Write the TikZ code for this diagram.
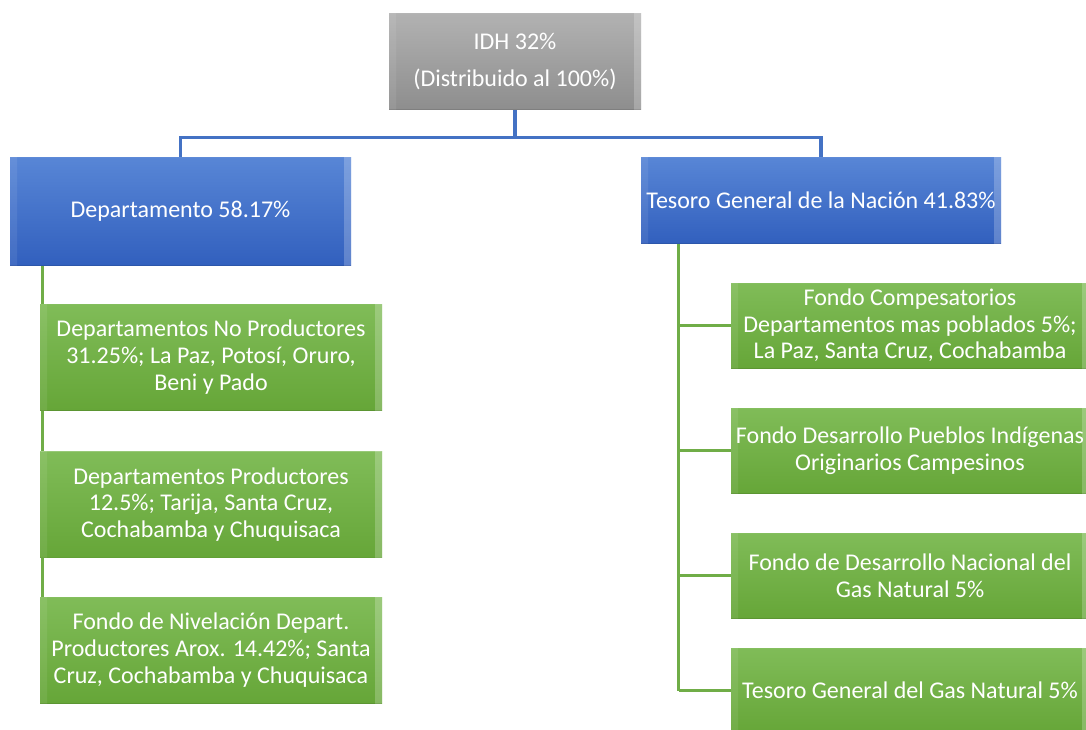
\documentclass[tikz,border=0pt]{standalone}
\usepackage{fontspec}
\setmainfont{Carlito}
\usetikzlibrary{calc,backgrounds}
\definecolor{grayTop}{RGB}{178,178,178}
\definecolor{grayBot}{RGB}{142,142,142}
\definecolor{blueTop}{RGB}{88,134,214}
\definecolor{blueBot}{RGB}{50,96,190}
\definecolor{greenTop}{RGB}{128,188,88}
\definecolor{greenBot}{RGB}{102,166,56}
\definecolor{blueLine}{RGB}{68,114,196}
\definecolor{greenLine}{RGB}{112,173,71}
\tikzset{every picture/.style={line width=0.75pt}}
\tikzset{
  bevel/.style={path picture={
    \path (path picture bounding box.north west) coordinate (bnw)
          (path picture bounding box.north east) coordinate (bne)
          (path picture bounding box.south west) coordinate (bsw)
          (path picture bounding box.south east) coordinate (bse);
    \fill[white,opacity=.3] (bnw) -- (bne) -- ($(bne)+(-7,7)$) -- ($(bnw)+(7,7)$) -- cycle;
    \fill[white,opacity=.08] (bnw) -- ($(bnw)+(7,7)$) -- ($(bsw)+(7,-7)$) -- (bsw) -- cycle;
    \fill[white,opacity=.22] (bne) -- ($(bne)+(-7,7)$) -- ($(bse)+(-7,-7)$) -- (bse) -- cycle;
    \fill[black,opacity=.1] (bsw) -- ($(bsw)+(7,-7)$) -- ($(bse)+(-7,-7)$) -- (bse) -- cycle;
  }},
  box/.style={rectangle, inner sep=2pt, text=white, align=center,
    font=\fontsize{18}{20}\selectfont, bevel},
  graybox/.style={box, top color=grayTop, bottom color=grayBot},
  bluebox/.style={box, top color=blueTop, bottom color=blueBot},
  greenbox/.style={box, top color=greenTop, bottom color=greenBot},
  blueline/.style={draw=blueLine, line width=2.4pt},
  greenline/.style={draw=greenLine, line width=2.2pt}
}
\begin{document}
\begin{tikzpicture}[x=0.75pt,y=0.75pt,yscale=-1,xscale=1]
\useasboundingbox (0,0) rectangle (1086,729);

% top box
\node[graybox, minimum width=189pt, minimum height=72pt] (idh) at (515,61)
  {IDH 32\%\\[7.75pt](Distribuido al 100\%)};

% second level
\node[bluebox, minimum width=255.75pt, minimum height=81pt] (dep) at (180.5,211) {Departamento 58.17\%};
\node[bluebox, minimum width=270pt, minimum height=64.5pt] (tgn) at (821,200) {Tesoro General de la Nación 41.83\%};

% left branch
\node[greenbox, minimum width=256.5pt, minimum height=79.5pt] (dnp) at (211,357)
  {Departamentos No Productores\\31.25\%; La Paz, Potosí, Oruro,\\Beni y Pado};
\node[greenbox, minimum width=256.5pt, minimum height=79.5pt] (dp) at (211,504.5)
  {Departamentos Productores\\12.5\%; Tarija, Santa Cruz,\\Cochabamba y Chuquisaca};
\node[greenbox, minimum width=256.5pt, minimum height=79.5pt] (fnd) at (211,650)
  {Fondo de Nivelación Depart.\\Productores Arox. 14.42\%; Santa\\Cruz, Cochabamba y Chuquisaca};

% right branch
\node[greenbox, minimum width=268.5pt, minimum height=63.75pt] (fcd) at (910,325.5)
  {Fondo Compesatorios\\Departamentos mas poblados 5\%;\\La Paz, Santa Cruz, Cochabamba};
\node[greenbox, minimum width=268.5pt, minimum height=63.75pt] (fdp) at (910,450.5)
  {Fondo Desarrollo Pueblos Indígenas\\Originarios Campesinos};
\node[greenbox, minimum width=268.5pt, minimum height=63.75pt] (fdn) at (910,575.5)
  {Fondo de Desarrollo Nacional del\\Gas Natural 5\%};
\node[greenbox, minimum width=268.5pt, minimum height=63.75pt] (tgg) at (910,690.5)
  {Tesoro General del Gas Natural 5\%};

% connectors
\begin{scope}[on background layer]
\draw[blueline] (idh.south) -- ++(0,28) -| (dep.north);
\draw[blueline] (idh.south) -- ++(0,28) -| (tgn.north);
\draw[greenline] ([xshift=2pt]dnp.west |- dep.south) -- ([xshift=2pt]dnp.west |- fnd.west);
\coordinate (rv) at ([xshift=28.5pt]tgn.south west);
\draw[greenline] (rv) -- (rv |- tgg.west);
\foreach \n in {fcd,fdp,fdn,tgg}
  \draw[greenline] (rv |- \n.west) -- (\n.west);
\end{scope}

\end{tikzpicture}
\end{document}
